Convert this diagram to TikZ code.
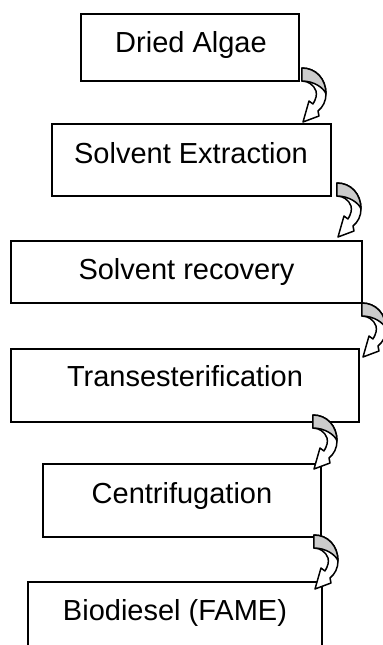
\documentclass[tikz,border=0pt]{standalone}
\usepackage{fontspec}
\setmainfont{Liberation Sans}
\usetikzlibrary{calc}
\definecolor{ribbon}{RGB}{204,204,204}
\tikzset{
  stepbox/.style={draw=black, line width=0.7pt, outer sep=0pt, inner sep=0pt},
  steptext/.style={anchor=base, inner sep=0pt, font=\fontsize{14.5}{17}\selectfont},
  arrowline/.style={draw=black, line width=0.75pt, line join=round},
  curv/.pic={
    \filldraw[arrowline, fill=white] (0,0) .. controls (14,0) and (24,11) .. (24,26)
      .. controls (24,33) and (21,39) .. (16,43) -- (17,48) -- (1,54) -- (7,33) -- (11,36)
      .. controls (14,31) and (15,27) .. (14,23) .. controls (12,17) and (6,13) .. (0,13) -- cycle;
    \filldraw[arrowline, fill=ribbon] (0,0) .. controls (14,0) and (24,11) .. (24,26)
      .. controls (22,20) and (12,13) .. (0,13) -- cycle;
  }
}
\begin{document}
\begin{tikzpicture}[x=0.5pt, y=-0.5pt]
\useasboundingbox (0,0) rectangle (383,645);
\clip (0,0) rectangle (383,645);

\node[stepbox, minimum width=109pt, minimum height=33.5pt] (b1) at (190,47.5) {};
\node[stepbox, minimum width=139.5pt, minimum height=36pt] (b2) at (191.5,160) {};
\node[stepbox, minimum width=175.5pt, minimum height=31pt] (b3) at (186.5,272) {};
\node[stepbox, minimum width=174pt, minimum height=36.5pt] (b4) at (185,385.5) {};
\node[stepbox, minimum width=139pt, minimum height=36.5pt] (b5) at (182,500.5) {};
\node[stepbox, minimum width=147pt, minimum height=39pt] (b6) at (175,621) {};

\node[steptext] (t1) at (191,52) {Dried Algae};
\node[steptext] (t2) at (191,163) {Solvent Extraction};
\node[steptext] (t3) at (186.5,279) {Solvent recovery};
\node[steptext] (t4) at (185,386) {Transesterification};
\node[steptext] (t5) at (182,503) {Centrifugation};
\node[steptext] (t6) at (175,620) {Biodiesel (FAME)};

\pic (a1) at ($(b1.south east)+(3,-13)$) {curv};
\pic (a2) at ($(b2.south east)+(6,-13)$) {curv};
\pic (a3) at ($(b3.south east)+(0,0)$) {curv};
\pic (a4) at ($(b4.south east)+(-46,-7)$) {curv};
\pic (a5) at ($(b5.south east)+(-7,-2)$) {curv};
\end{tikzpicture}
\end{document}
